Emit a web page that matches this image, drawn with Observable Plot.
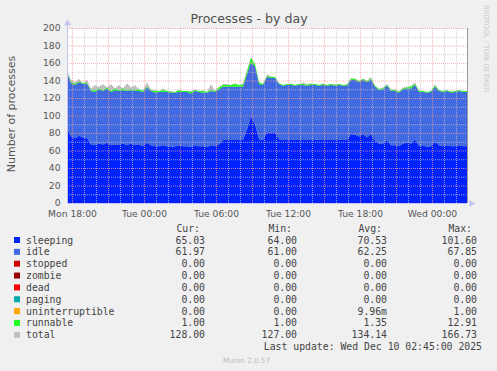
<!DOCTYPE html>
<html><head><meta charset="utf-8">
<script src="https://cdn.jsdelivr.net/npm/d3@7"></script>
<script src="https://cdn.jsdelivr.net/npm/@observablehq/plot@0.6"></script>
<style>
html,body{margin:0;padding:0;background:#f0f0f0;}
#wrap{position:relative;width:497px;height:371px;background:#f0f0f0;overflow:hidden;}
#chart{position:absolute;left:0;top:0;}
#over{position:absolute;left:0;top:0;}
</style></head><body>
<div id="wrap"><div id="chart"></div><svg id="over" width="497" height="371"></svg></div>
<script>
// ---- data (20-minute samples, Mon 17:35 -> Wed 02:55 UTC) ----
const sleeping = [86,76,74,77,75,74,67,66,68,67,69,66,67,67,68,66,68,66,67,65,
  69,66,65,65,66,65,64,65,66,65,65,64,66,65,65,64,66,65,67,72,
  72,72,72,72,72,84,99,90,73,72,81,80,81,73,72,72,73,72,72,73,
  72,72,73,72,72,72,73,72,72,72,72,79,78,76,79,75,79,71,68,68,
  72,66,66,65,68,69,68,73,65,66,64,65,70,66,65,66,65,65,66,65,65];
const idle = [62,61,61,61,61,62,61,61,62,61,62,61,62,61,61,62,61,62,61,62,
  63,62,61,62,61,62,62,61,61,62,62,61,62,62,61,62,62,62,63,61,
  61,61,61,61,61,63,62,66,63,63,63,63,62,63,62,63,62,62,63,62,
  62,63,62,62,63,62,62,62,63,62,62,62,63,62,62,63,62,62,61,62,
  62,62,62,61,62,62,63,62,62,61,62,62,63,62,62,62,61,62,62,62,62];
const runnable = [1,1,1,1,1,1,1,2,1,1,1,1,2,1,2,1,1,1,2,1,
  1,1,2,1,2,1,1,1,2,1,1,2,1,1,2,1,1,1,2,2,
  2,2,3,2,2,3,5,3,2,1,1,1,1,1,1,1,1,1,1,1,
  1,1,1,1,1,1,1,1,1,1,1,1,1,1,1,1,1,1,1,1,
  1,1,1,1,1,1,2,1,1,1,1,1,1,1,1,1,1,1,1,1,1];
const total = [152,141,138,142,137,141,131,135,133,136,132,136,131,135,131,137,132,135,130,129,
  138,130,129,128,131,128,128,127,130,128,128,128,130,128,129,127,136,128,133,136,
  136,135,137,135,137,152,167,158,138,136,147,145,144,137,135,136,137,135,136,138,
  136,137,136,135,137,135,136,136,136,135,136,143,142,140,142,140,144,134,131,132,
  136,130,130,128,132,133,134,138,129,128,127,128,136,129,128,129,128,128,129,128,128];

const yTicks = [0,20,40,60,80,100,120,140,160,180,200];
const xTickTimes = ["2025-12-08T18:00Z","2025-12-09T00:00Z","2025-12-09T06:00Z","2025-12-09T12:00Z","2025-12-09T18:00Z","2025-12-10T00:00Z"];
const xTickLabels = ["Mon 18:00","Tue 00:00","Tue 06:00","Tue 12:00","Tue 18:00","Wed 00:00"];

const legendNames = ["sleeping","idle","stopped","zombie","dead","paging","uninterruptible","runnable","total"];
const legendColors = ["#0022ff","#4169e1","#cc0000","#990000","#ff0000","#00aaaa","#ffa500","#22ff22","#c0c0c0"];
const curVals = ["65.03","61.97","0.00","0.00","0.00","0.00","0.00","1.00","128.00"];
const minVals = ["64.00","61.00","0.00","0.00","0.00","0.00","0.00","1.00","127.00"];
const avgVals = ["70.53","62.25","0.00","0.00","0.00","0.00","9.96m","1.35","134.14"];
const maxVals = ["101.60","67.85","0.00","0.00","0.00","0.00","1.00","12.91","166.73"];

// ---- build tables ----
const T0 = Date.UTC(2025,11,8,17,35);
const STEP = 20*60*1000;
const t0 = new Date(T0), t1 = new Date(T0 + (sleeping.length-1)*STEP);
const rows = sleeping.map((v,i)=>({t:new Date(T0+i*STEP), sleeping:v, idle:idle[i], runnable:runnable[i], total:total[i]}));
const stackSeries = ["sleeping","idle","runnable"];
const long = [];
rows.forEach(r=>stackSeries.forEach(s=>long.push({t:r.t, s, v:r[s]})));
const xTicks = xTickTimes.map(d=>new Date(d));
const labelOf = new Map(xTicks.map((d,i)=>[+d, xTickLabels[i]]));
const hours = d3.utcHour.range(t0, t1).filter(d=>d.getUTCHours()%3!==0);
const hours3 = d3.utcHour.every(3).range(t0, t1);
const yMinor = d3.range(10,200,20);
const yMajor = yTicks.filter(d=>d>0);

const axisCol = "#c4c4f4";
const chart = Plot.plot({
  width: 497, height: 220,
  marginLeft: 67, marginRight: 30, marginTop: 28, marginBottom: 17,
  style: {fontFamily:"DejaVu Sans, sans-serif", fontSize:"9.2px", color:"#555", background:"transparent"},
  x: {type:"utc", domain:[t0,t1]},
  y: {domain:[0,200]},
  color: {domain: legendNames, range: legendColors},
  marks: [
    Plot.frame({fill:"white", stroke:null}),
    Plot.areaY(rows, {x:"t", y:"total", fill:"#c0c0c0"}),
    Plot.areaY(long, {x:"t", y:"v", z:"s", fill:"s", order: stackSeries}),
    Plot.ruleY(yMinor, {stroke:"#c4c4c4", strokeOpacity:0.75, strokeDasharray:"1,1"}),
    Plot.ruleX(hours, {stroke:"#c4c4c4", strokeOpacity:0.75, strokeDasharray:"1,1"}),
    Plot.ruleY(yMajor, {stroke:"#f29a9a", strokeOpacity:0.75, strokeDasharray:"1,1"}),
    Plot.ruleX(hours3, {stroke:"#f29a9a", strokeOpacity:0.75, strokeDasharray:"1,1"}),
    Plot.ruleX([t1], {stroke:"#999"}),
    Plot.ruleY([0], {stroke:axisCol}),
    Plot.ruleX([t0], {y1:0, y2:206, stroke:axisCol}),
    Plot.dot([{x:t0, y:206}], {x:"x", y:"y", symbol:"triangle", r:2.6, fill:axisCol, stroke:null}),
    Plot.dot([{x:new Date(+t1+20*60*1000), y:0}], {x:"x", y:"y", symbol:"triangle", r:2.6, rotate:90, fill:axisCol, stroke:null}),
    Plot.axisY({ticks: yTicks, tickSize:0, tickPadding:7}),
    Plot.axisX({ticks: xTicks, tickSize:0, tickPadding:7, tickFormat: d=>labelOf.get(+d)})
  ]
});
document.getElementById("chart").appendChild(chart);

// ---- overlay texts ----
const o = d3.select("#over");
o.append("text").attr("x",249).attr("y",23).attr("text-anchor","middle")
  .attr("font-family","DejaVu Sans").attr("font-size","12.6px").attr("fill","#505050").text("Processes - by day");
o.append("text").attr("transform","translate(15,114) rotate(-90)").attr("text-anchor","middle")
  .attr("font-family","DejaVu Sans").attr("font-size","11px").attr("fill","#555").text("Number of processes");
o.append("text").attr("transform","translate(484,5) rotate(90)").attr("text-anchor","start")
  .attr("font-family","DejaVu Sans").attr("font-size","6.8px").attr("fill","#c8c8c8").text("RRDTOOL / TOBI OETIKER");

const mono = "DejaVu Sans Mono, monospace";
const fs = "9.8px", col = "#444";
const colX = [205, 297, 387, 477];
const heads = ["Cur:","Min:","Avg:","Max:"];
heads.forEach((h,j)=>o.append("text").attr("x",colX[j]-5).attr("y",231.8).attr("text-anchor","end")
  .attr("font-family",mono).attr("font-size",fs).attr("fill",col).text(h));
const rowY0 = 243.5, rowDy = 11.85;
const cols = [curVals, minVals, avgVals, maxVals];
legendNames.forEach((n,i)=>{
  const by = rowY0 + i*rowDy;
  o.append("rect").attr("x",14).attr("y",by-6.5).attr("width",6).attr("height",6).attr("fill",legendColors[i]);
  o.append("text").attr("x",26).attr("y",by).attr("font-family",mono).attr("font-size",fs).attr("fill",col).text(n);
  cols.forEach((arr,j)=>o.append("text").attr("x",colX[j]).attr("y",by).attr("text-anchor","end")
    .attr("font-family",mono).attr("font-size",fs).attr("fill",col).text(arr[i]));
});
o.append("text").attr("x",482).attr("y",rowY0 + 9*rowDy).attr("text-anchor","end")
  .attr("font-family",mono).attr("font-size",fs).attr("fill",col).text("Last update: Wed Dec 10 02:45:00 2025");
o.append("text").attr("x",223).attr("y",363).attr("font-family","DejaVu Sans").attr("font-size","7.2px")
  .attr("fill","#bbbbbb").text("Munin 2.0.57");
</script>
</body></html>
